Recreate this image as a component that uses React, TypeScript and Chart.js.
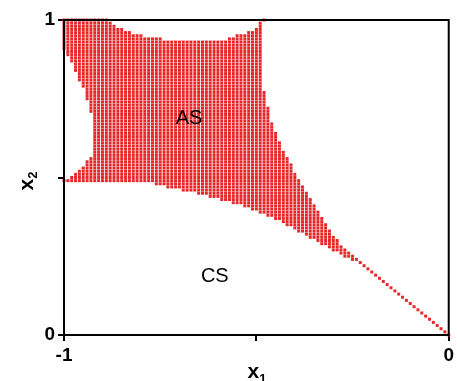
import React, { useEffect, useRef } from 'react';
import { Chart, registerables } from 'chart.js';

Chart.register(...registerables);

// Grid of x1 columns: x1 = -1 + i * 0.01, i = 0..100
const gridStart = -1;
const gridStep = 0.01;

// Lowest x2 of the AS region in each column
const lowerBound = [
  0.49, 0.49, 0.49, 0.49, 0.49, 0.49, 0.49, 0.49, 0.49, 0.49,
  0.49, 0.49, 0.49, 0.49, 0.49, 0.49, 0.49, 0.49, 0.49, 0.49,
  0.49, 0.49, 0.49, 0.49, 0.48, 0.48, 0.48, 0.47, 0.47, 0.47,
  0.47, 0.46, 0.46, 0.46, 0.46, 0.45, 0.45, 0.45, 0.44, 0.44,
  0.44, 0.43, 0.43, 0.43, 0.42, 0.42, 0.42, 0.41, 0.41, 0.40,
  0.40, 0.39, 0.39, 0.38, 0.38, 0.37, 0.37, 0.36, 0.35, 0.35,
  0.34, 0.33, 0.33, 0.32, 0.31, 0.31, 0.30, 0.29, 0.29, 0.28,
  0.27, 0.27, 0.26, 0.25, 0.25, 0.24, 0.24, 0.23, 0.22, 0.21,
  0.20, 0.19, 0.18, 0.17, 0.16, 0.15, 0.14, 0.13, 0.12, 0.11,
  0.10, 0.09, 0.08, 0.07, 0.06, 0.05, 0.04, 0.03, 0.02, 0.01,
  0.00,
];

// Highest x2 of the AS region in each column
const upperBound = [
  1.00, 1.00, 1.00, 1.00, 1.00, 1.00, 1.00, 1.00, 1.00, 1.00,
  1.00, 1.00, 0.99, 0.98, 0.97, 0.97, 0.96, 0.96, 0.95, 0.95,
  0.95, 0.94, 0.94, 0.94, 0.94, 0.94, 0.93, 0.93, 0.93, 0.93,
  0.93, 0.93, 0.93, 0.93, 0.93, 0.93, 0.93, 0.93, 0.93, 0.93,
  0.93, 0.93, 0.93, 0.94, 0.94, 0.95, 0.95, 0.95, 0.96, 0.96,
  0.97, 0.99, 0.77, 0.72, 0.67, 0.64, 0.61, 0.58, 0.56, 0.54,
  0.51, 0.49, 0.47, 0.45, 0.43, 0.41, 0.39, 0.37, 0.35, 0.33,
  0.31, 0.30, 0.28, 0.27, 0.26, 0.25, 0.24, 0.23, 0.22, 0.21,
  0.20, 0.19, 0.18, 0.17, 0.16, 0.15, 0.14, 0.13, 0.12, 0.11,
  0.10, 0.09, 0.08, 0.07, 0.06, 0.05, 0.04, 0.03, 0.02, 0.01,
  0.00,
];

// White notch on the left (first columns): empty between these x2 values
const notchLower = [0.49, 0.49, 0.50, 0.51, 0.52, 0.53, 0.55, 0.56];
const notchUpper = [0.91, 0.89, 0.87, 0.84, 0.81, 0.79, 0.75, 0.71];

// Isolated points
const isolatedX1 = [-0.48];
const isolatedX2 = [1.0];

const xTickValues = [-1, -0.5, 0];
const xTickLabels = ['-1', '', '0'];
const yTickValues = [0, 0.5, 1];
const yTickLabels = ['0', '', '1'];

const regionLabels = ['AS', 'CS'];
const regionLabelX1 = [-0.675, -0.608];
const regionLabelX2 = [0.688, 0.186];

const dotColor = 'rgb(232, 38, 40)';
const FONT = 'Arial, "Liberation Sans", Helvetica, sans-serif';

function buildPoints() {
  const pts: { x: number; y: number }[] = [];
  for (let i = 0; i < lowerBound.length; i++) {
    const x = +(gridStart + i * gridStep).toFixed(2);
    const lo = Math.round(lowerBound[i] * 100);
    const hi = Math.round(upperBound[i] * 100);
    const nLo = i < notchLower.length ? Math.round(notchLower[i] * 100) : null;
    const nHi = i < notchUpper.length ? Math.round(notchUpper[i] * 100) : null;
    for (let j = lo; j <= hi; j++) {
      if (nLo !== null && nHi !== null && j > nLo && j < nHi) continue;
      pts.push({ x, y: j / 100 });
    }
  }
  for (let k = 0; k < isolatedX1.length; k++) pts.push({ x: isolatedX1[k], y: isolatedX2[k] });
  return pts;
}

function drawSubText(
  ctx: CanvasRenderingContext2D,
  base: string,
  sub: string,
  cx: number,
  baseline: number,
  baseSize: number,
  subSize: number,
  subDrop: number
) {
  ctx.font = `bold ${baseSize}px ${FONT}`;
  const w1 = ctx.measureText(base).width;
  ctx.font = `bold ${subSize}px ${FONT}`;
  const w2 = ctx.measureText(sub).width;
  const start = cx - (w1 + w2) / 2;
  ctx.textAlign = 'left';
  ctx.textBaseline = 'alphabetic';
  ctx.font = `bold ${baseSize}px ${FONT}`;
  ctx.fillText(base, start, baseline);
  ctx.font = `bold ${subSize}px ${FONT}`;
  ctx.fillText(sub, start + w1, baseline + subDrop);
}

const decorPlugin = {
  id: 'decor',
  afterDatasetsDraw(chart: any) {
    const { ctx, chartArea, scales } = chart;
    ctx.save();
    // frame
    ctx.strokeStyle = '#000';
    ctx.lineWidth = 2;
    ctx.strokeRect(chartArea.left, chartArea.top, chartArea.right - chartArea.left, chartArea.bottom - chartArea.top);
    // region labels
    ctx.fillStyle = '#000';
    ctx.font = `20px ${FONT}`;
    ctx.textAlign = 'center';
    ctx.textBaseline = 'middle';
    for (let k = 0; k < regionLabels.length; k++) {
      ctx.fillText(regionLabels[k], scales.x.getPixelForValue(regionLabelX1[k]), scales.y.getPixelForValue(regionLabelX2[k]));
    }
    // axis titles
    drawSubText(ctx, 'x', '1', 257, 378, 21, 13, 5);
    ctx.translate(33, 181);
    ctx.rotate(-Math.PI / 2);
    drawSubText(ctx, 'x', '2', 0, 0, 21, 13, 4);
    ctx.restore();
  },
};

export default function App() {
  const ref = useRef<HTMLCanvasElement | null>(null);
  useEffect(() => {
    document.body.style.margin = '0';
    const canvas = ref.current;
    if (!canvas) return;
    const chart = new Chart(canvas, {
      type: 'scatter',
      data: {
        datasets: [
          {
            data: buildPoints(),
            backgroundColor: dotColor,
            borderWidth: 0,
            pointStyle: 'rect',
            pointRadius: 2.1,
            pointHoverRadius: 2.1,
            clip: false as any,
          },
        ],
      },
      options: {
        animation: false,
        responsive: false,
        devicePixelRatio: 1,
        events: [],
        layout: { padding: { top: 20, right: 5, left: 0, bottom: 0 } },
        plugins: { legend: { display: false }, tooltip: { enabled: false }, title: { display: false } },
        scales: {
          x: {
            type: 'linear',
            min: -1,
            max: 0,
            afterBuildTicks: (s: any) => {
              s.ticks = xTickValues.map((v) => ({ value: v }));
            },
            afterFit: (s: any) => {
              s.height = 46;
            },
            ticks: {
              autoSkip: false,
              maxRotation: 0,
              padding: 3,
              color: '#000',
              font: { family: FONT, size: 19, weight: 'bold' },
              callback: (v: any) => {
                const idx = xTickValues.indexOf(Number(v));
                return idx >= 0 ? xTickLabels[idx] : '';
              },
            },
            grid: { display: true, drawOnChartArea: false, drawTicks: true, tickLength: 6, color: '#000', lineWidth: 2 },
            border: { display: true, color: '#000', width: 2 },
          },
          y: {
            type: 'linear',
            min: 0,
            max: 1,
            afterBuildTicks: (s: any) => {
              s.ticks = yTickValues.map((v) => ({ value: v }));
            },
            afterFit: (s: any) => {
              s.width = 64;
            },
            ticks: {
              autoSkip: false,
              padding: 3,
              color: '#000',
              font: { family: FONT, size: 19, weight: 'bold' },
              callback: (v: any) => {
                const idx = yTickValues.indexOf(Number(v));
                return idx >= 0 ? yTickLabels[idx] : '';
              },
            },
            grid: { display: true, drawOnChartArea: false, drawTicks: true, tickLength: 6, color: '#000', lineWidth: 2 },
            border: { display: true, color: '#000', width: 2 },
          },
        },
      },
      plugins: [decorPlugin],
    } as any);
    return () => chart.destroy();
  }, []);
  return (
    <div style={{ position: 'relative', width: 457, height: 381 }}>
      <canvas ref={ref} width={457} height={381} />
    </div>
  );
}
